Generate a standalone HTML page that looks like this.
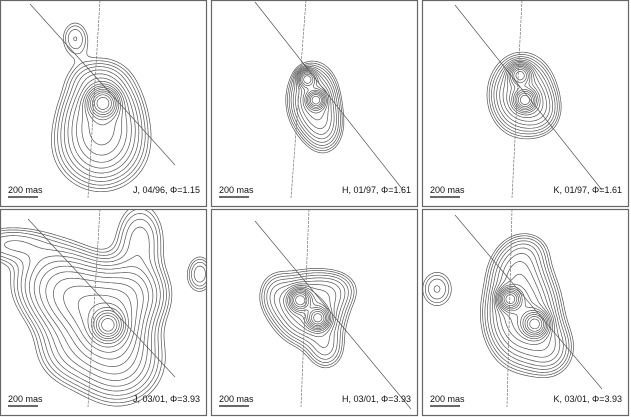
<!DOCTYPE html>
<html><head><meta charset="utf-8"><style>
html,body{margin:0;padding:0;background:#fff}
svg{display:block}
text{font-family:"Liberation Sans",sans-serif;font-size:9px;fill:#111}
</style></head><body>
<svg id="fig" width="631" height="417" viewBox="0 0 631 417"></svg>
<script>
// Panel metadata
const panelLabels = ["J, 04/96, \u03A6=1.15","H, 01/97, \u03A6=1.61","K, 01/97, \u03A6=1.61","J, 03/01, \u03A6=3.93","H, 03/01, \u03A6=3.93","K, 03/01, \u03A6=3.93"];
const panelNames = ["panel-j-0496","panel-h-0197","panel-k-0197","panel-j-0301","panel-h-0301","panel-k-0301"];
// Gaussian source components per panel: [x, y, amplitude, sigmaX, sigmaY]
const comp0 = [[103,103,1,8,8],[102,120,0.25,22,30],[100,150,0.08,30,25],[75,38,0.065,10,13],[95,78,0.03,18,10]];
const comp1 = [[105,100,1,5,5],[96,79,0.5,5,5],[102,100,0.3,14,20],[113,128,0.13,12,16]];
const comp2 = [[103,100,1,6,6],[98,75,0.6,6,6],[100,95,0.3,18,22],[120,112,0.08,12,14]];
const comp3 = [[108,116,1,8,8],[108,118,0.25,18,18],[85,95,0.2,27,20],[60,72,0.12,27,22],[130,85,0.14,22,20],[118,150,0.13,26,26],[140,30,0.07,16,24],[10,35,0.06,28,12],[200,65,0.06,9,13],[70,140,0.07,22,22]];
const comp4 = [[89,91,1,6,6],[107,109,0.95,6,6],[98,100,0.3,20,20],[65,85,0.08,12,15],[125,80,0.08,15,12],[115,140,0.1,12,14]];
const comp5 = [[88,90,1,6,6],[113,115,0.95,7,7],[100,105,0.3,20,28],[95,60,0.1,16,16],[128,140,0.1,15,17],[15,80,0.07,12,14],[105,40,0.05,15,12]];
const components = [comp0,comp1,comp2,comp3,comp4,comp5];
// Number of contour levels per panel
const contourCounts = [16,15,15,18,15,16];
// Overlay lines per panel: diagonal [x1,y1,x2,y2], vertical [x1,y1,x2,y2]
const diagLines = [[30,4,175,165],[44,2,192,190],[33,5,180,190],[28,10,175,168],[44,12,200,200],[33,6,180,180]];
const vertLines = [[100,0,88,198],[95,0,80,198],[100,0,90,198],[100,0,88,198],[98,0,90,198],[90,0,85,198]];
const contourRatio = 0.8;

const NS="http://www.w3.org/2000/svg";
const svg=document.getElementById('fig');
const origins=[[0,0],[211,0],[422,0],[0,209],[211,209],[422,209]];
const PW=207,PH=207;
function mk(t,a,p){const e=document.createElementNS(NS,t);for(const k in a)e.setAttribute(k,a[k]);(p||svg).appendChild(e);return e;}

for(let p=0;p<6;p++){
  const [ox,oy]=origins[p];
  const g=mk('g',{transform:`translate(${ox},${oy})`});
  
  
  const cp=mk('clipPath',{id:'c'+p},g);mk('rect',{x:0,y:0,width:PW,height:PH},cp);
  const cg=mk('g',{'clip-path':`url(#c${p})`},g);
  const comps=components[p];
  const f=(x,y)=>{let s=0;for(const c of comps){const dx=(x-c[0])/c[3],dy=(y-c[1])/c[4];s+=c[2]*Math.exp(-0.5*(dx*dx+dy*dy));}return s;};
  const st=2,nx=Math.ceil(PW/st)+1,ny=Math.ceil(PH/st)+1;
  const V=[];for(let j=0;j<ny;j++){const r=[];for(let i=0;i<nx;i++)r.push(f(i*st,j*st));V.push(r);}
  let peak=0;V.forEach(r=>r.forEach(v=>{if(v>peak)peak=v;}));
  let d='';
  for(let k=1;k<=contourCounts[p];k++){
    const L=peak*Math.pow(contourRatio,k);
    for(let j=0;j<ny-1;j++)for(let i=0;i<nx-1;i++){
      const a=V[j][i],b=V[j][i+1],c=V[j+1][i+1],e=V[j+1][i];
      const x0=i*st,y0=j*st,pts=[];
      const cr=(v1,v2,x1,y1,x2,y2)=>{if((v1-L)*(v2-L)<0){const t=(L-v1)/(v2-v1);pts.push([x1+t*(x2-x1),y1+t*(y2-y1)]);}};
      cr(a,b,x0,y0,x0+st,y0);cr(b,c,x0+st,y0,x0+st,y0+st);cr(c,e,x0+st,y0+st,x0,y0+st);cr(e,a,x0,y0+st,x0,y0);
      for(let q=0;q+1<pts.length;q+=2)d+=`M${pts[q][0].toFixed(1)} ${pts[q][1].toFixed(1)}L${pts[q+1][0].toFixed(1)} ${pts[q+1][1].toFixed(1)}`;
    }
  }
  const cpath=mk('path',{d:d,fill:'none',stroke:'#555','stroke-width':0.7},cg);
  
  
  const dl=diagLines[p];
  const dLine=mk('line',{x1:dl[0],y1:dl[1],x2:dl[2],y2:dl[3],stroke:'#555','stroke-width':0.7},cg);
  
  
  const vl=vertLines[p];
  const vLine=mk('line',{x1:vl[0],y1:vl[1],x2:vl[2],y2:vl[3],stroke:'#777','stroke-width':0.7,'stroke-dasharray':'3 1'},cg);
  
  
  const sb=mk('line',{x1:8,y1:197,x2:38,y2:197,stroke:'#111','stroke-width':1.2},g);
  
  
  const st1=mk('text',{x:8,y:193},g);st1.textContent='200 mas';
  
  
  const lt=mk('text',{x:200,y:193,'text-anchor':'end'},g);lt.textContent=panelLabels[p];
  
  
  const br=mk('rect',{x:0.5,y:0.5,width:PW-1,height:PH-1,fill:'none',stroke:'#666','stroke-width':1.2},g);
  
  
}
</script>
</body></html>
